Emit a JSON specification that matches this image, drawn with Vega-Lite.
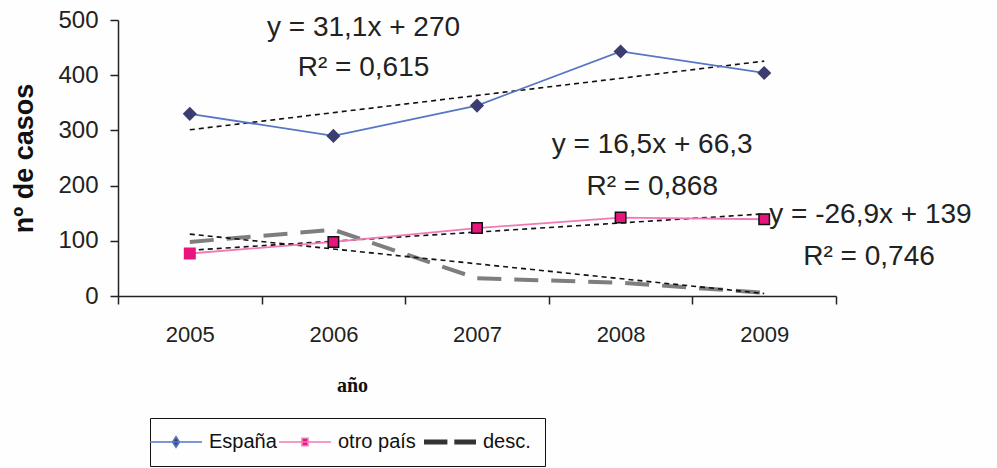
{
  "$schema": "https://vega.github.io/schema/vega-lite/v6.json",
  "autosize": {"type": "none"},
  "width": 718,
  "height": 276,
  "padding": {"left": 118, "top": 20, "right": 161, "bottom": 172},
  "background": "#fefefe",
  "config": {
    "view": {"stroke": null},
    "font": "Liberation Sans",
    "axis": {"domainColor": "#222", "tickColor": "#222", "domainWidth": 1.5, "tickWidth": 1.5, "labelColor": "#222", "labelFont": "Liberation Sans", "labelFontSize": 22, "grid": false}
  },
  "datasets": {
    "series": [
      {"year": 2005, "series": "España", "value": 330},
      {"year": 2006, "series": "España", "value": 290},
      {"year": 2007, "series": "España", "value": 345},
      {"year": 2008, "series": "España", "value": 443},
      {"year": 2009, "series": "España", "value": 404},
      {"year": 2005, "series": "otro país", "value": 77},
      {"year": 2006, "series": "otro país", "value": 98},
      {"year": 2007, "series": "otro país", "value": 123},
      {"year": 2008, "series": "otro país", "value": 142},
      {"year": 2009, "series": "otro país", "value": 139},
      {"year": 2005, "series": "desc.", "value": 98},
      {"year": 2006, "series": "desc.", "value": 120},
      {"year": 2007, "series": "desc.", "value": 32},
      {"year": 2008, "series": "desc.", "value": 24},
      {"year": 2009, "series": "desc.", "value": 6}
    ],
    "trend": [
      {"year": 2005, "series": "España", "value": 301.1},
      {"year": 2009, "series": "España", "value": 425.5},
      {"year": 2005, "series": "otro país", "value": 82.8},
      {"year": 2009, "series": "otro país", "value": 148.8},
      {"year": 2005, "series": "desc.", "value": 112.1},
      {"year": 2009, "series": "desc.", "value": 4.5}
    ],
    "labels": [
      {"year": 2006.21, "value": 485, "label": "y = 31,1x + 270"},
      {"year": 2006.21, "value": 413, "label": "R² = 0,615"},
      {"year": 2008.22, "value": 273, "label": "y = 16,5x + 66,3"},
      {"year": 2008.22, "value": 197, "label": "R² = 0,868"},
      {"year": 2009.74, "value": 147, "label": "y = -26,9x + 139"},
      {"year": 2009.73, "value": 71, "label": "R² = 0,746"}
    ]
  },
  "layer": [
    {
      "data": {"name": "series"},
      "transform": [{"filter": "datum.series === 'desc.'"}],
      "mark": {"type": "line", "strokeDash": [24, 13], "strokeWidth": 4, "color": "#707070", "opacity": 0.9},
      "encoding": {
        "x": {"field": "year", "type": "quantitative", "scale": {"domain": [2004.5, 2009.5], "nice": false, "zero": false},
          "axis": {"values": [2004.5, 2005.5, 2006.5, 2007.5, 2008.5, 2009.5], "tickSize": 8, "labelOffset": 71.8, "labelPadding": 30, "labelBaseline": "middle", "labelOverlap": false, "labelFlush": false, "labelBound": false, "labelFontSize": 22,
            "labelExpr": "datum.value < 2009.4 ? format(datum.value + 0.5, 'd') : ''",
            "title": "año", "titleFont": "Liberation Serif", "titleFontWeight": "bold", "titleFontSize": 20, "titleColor": "#111", "titleX": 234, "titleY": 89, "titleBaseline": "middle", "titleAlign": "center"}},
        "y": {"field": "value", "type": "quantitative", "scale": {"domain": [0, 500], "nice": false},
          "axis": {"values": [0, 100, 200, 300, 400, 500], "tickSize": 8, "labelPadding": 12, "labelFontSize": 24,
            "title": "nº de casos", "titleFont": "Liberation Sans", "titleFontWeight": "bold", "titleFontSize": 27, "titleColor": "#111", "titleX": -94, "titleY": 138, "titleBaseline": "middle", "titleAlign": "center", "titleAngle": -90}}
      }
    },
    {
      "data": {"name": "trend"},
      "mark": {"type": "line", "strokeDash": [5, 4], "strokeWidth": 1.6, "color": "#111"},
      "encoding": {
        "x": {"field": "year", "type": "quantitative"},
        "y": {"field": "value", "type": "quantitative"},
        "detail": {"field": "series"}
      }
    },
    {
      "data": {"name": "series"},
      "transform": [{"filter": "datum.series !== 'desc.'"}],
      "mark": {"type": "line", "strokeWidth": 1.8},
      "encoding": {
        "x": {"field": "year", "type": "quantitative"},
        "y": {"field": "value", "type": "quantitative"},
        "color": {"field": "series", "type": "nominal",
          "scale": {"domain": ["España", "otro país", "desc."], "range": ["#5577c4", "#f07ab4", "#333333"]},
          "legend": {"orient": "none", "legendX": 32, "legendY": 398, "direction": "horizontal", "title": null,
            "strokeColor": "#111", "fillColor": "#fefefe", "padding": 14, "symbolSize": 1200, "symbolType": "stroke", "symbolOffset": 2,
            "labelFontSize": 20, "labelColor": "#111", "labelOffset": 23, "columnPadding": -2,
            "encode": {"symbols": {"update": {
              "shape": {"signal": "datum.value === 'España' ? 'M-1.5,0L1.5,0M0,-0.3L0.2,0L0,0.3L-0.2,0Z' : datum.value === 'otro país' ? 'M-1.5,0L1.5,0M-0.17,-0.22L0.17,-0.22L0.17,0.22L-0.17,0.22Z' : 'M-1.5,0L-0.15,0M0.25,0L1.5,0'"},
              "fill": {"signal": "datum.value === 'España' ? '#3b3d70' : datum.value === 'otro país' ? '#e8157f' : 'transparent'"},
              "stroke": {"signal": "scale('color', datum.value)"},
              "strokeWidth": {"signal": "datum.value === 'desc.' ? 5 : 1.6"},
              "opacity": {"value": 1}
            }}}}
        }
      }
    },
    {
      "data": {"name": "series"},
      "transform": [{"filter": "datum.series === 'España'"}],
      "mark": {"type": "point", "shape": "diamond", "filled": true, "size": 200, "color": "#3b3d70", "opacity": 1},
      "encoding": {
        "x": {"field": "year", "type": "quantitative"},
        "y": {"field": "value", "type": "quantitative"}
      }
    },
    {
      "data": {"name": "series"},
      "transform": [{"filter": "datum.series === 'otro país'"}],
      "mark": {"type": "point", "shape": "square", "filled": true, "size": 110, "fill": "#e8157f", "opacity": 1, "strokeWidth": 1.5},
      "encoding": {
        "x": {"field": "year", "type": "quantitative"},
        "y": {"field": "value", "type": "quantitative"},
        "stroke": {"condition": {"test": "datum.year === 2005", "value": "#e8157f"}, "value": "#111"}
      }
    },
    {
      "data": {"name": "labels"},
      "mark": {"type": "text", "fontSize": 28, "color": "#222", "align": "center", "baseline": "middle", "clip": false},
      "encoding": {
        "x": {"field": "year", "type": "quantitative"},
        "y": {"field": "value", "type": "quantitative"},
        "text": {"field": "label"}
      }
    }
  ]
}
